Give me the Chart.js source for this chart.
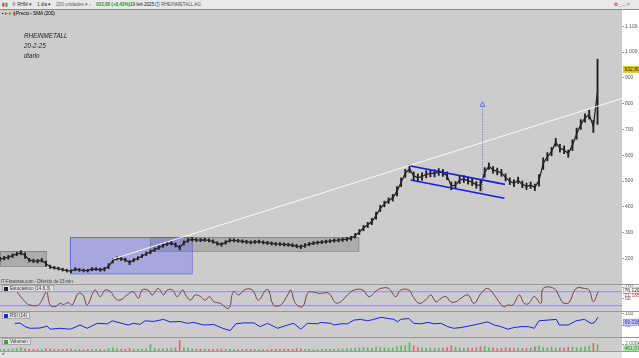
<!DOCTYPE html>
<html>
<head>
<meta charset="utf-8">
<script src="https://cdn.jsdelivr.net/npm/chart.js@4.4.1/dist/chart.umd.min.js"></script>
<style>
  body { margin: 0; width: 639px; height: 358px; overflow: hidden; background: #fff; position: relative;
         font-family: "Liberation Sans", Arial, sans-serif; }
  canvas { position: absolute; left: 0; }
  .row1 { position: absolute; left: 0; top: 0; width: 639px; height: 9px; background: #e9e9e9; border-bottom: 1px solid #8c8c8c; }
  .t { position: absolute; font-size: 4.8px; line-height: 7px; white-space: nowrap; color: #333; letter-spacing: -0.1px; }
  .note { position: absolute; left: 24px; font-style: italic; font-size: 6.3px; color: #222; }
  .hdr { position: absolute; left: 2px; font-size: 4.6px; line-height: 5px; padding: 0 2px 0 1px; background: #e4e4e4; border: 1px solid #aaa; color: #333; }
  .hdr i { display: inline-block; width: 4px; height: 4px; margin-right: 2px; vertical-align: -0.5px; }
  .sep { position: absolute; left: 0; width: 639px; height: 1px; background: #9a9a9a; }
</style>
</head>
<body>
<div class="row1">
  <span class="t" style="left:2px;top:1px;color:#c33">▮<b style="color:#3a3">▮</b></span>
  <span class="t" style="left:12px;top:1px">⚲ RHM ▾</span>
  <span class="t" style="left:37px;top:1px">1 día ▾</span>
  <span class="t" style="left:56px;top:1px;color:#666">200 unidades ▾</span>
  <span class="t" style="left:89px;top:1px;color:#666">▫</span>
  <span class="t" style="left:96px;top:1px;color:#2a9a2a;font-weight:bold">932,80 (+8,43%)</span>
  <span class="t" style="left:130px;top:1px;color:#222">19 feb 2025</span>
  <span class="t" style="left:155px;top:1px;color:#555"><b style="color:#36c">ⓘ</b> RHEINMETALL AG</span>
  <span class="t" style="left:614px;top:1px;color:#c33">✿<span style="color:#777"> _ □ ×</span></span>
</div>
<span class="t" style="left:2px;top:10px;z-index:2;color:#000">▪ <b style="color:#d33">▸</b> <b style="color:#3a3">▸</b> <span style="color:#c33">▮</span>Precio ▫ SMA (200)</span>

<canvas id="priceC" width="639" height="274" style="top:10px"></canvas>
<canvas id="stochC" width="639" height="27" style="top:284px"></canvas>
<canvas id="rsiC" width="639" height="26" style="top:311px"></canvas>
<canvas id="volC" width="639" height="21" style="top:337px"></canvas>

<div class="note" style="top:32px">RHEINMETALL</div>
<div class="note" style="top:42px">20-2-25</div>
<div class="note" style="top:52px">diario</div>
<span class="t" style="left:1px;top:278px;font-size:4.6px;color:#444">IT-Finanzas.com - Diferido de 15 min</span>
<div class="hdr" style="top:285px"><i style="background:#222"></i>Estocástico (14,6,3)</div>
<div class="hdr" style="top:312px"><i style="background:#2222dd"></i>RSI (14)</div>
<div class="hdr" style="top:338px"><i style="background:#3a3"></i>Volumen</div>
<div class="sep" style="top:284px"></div>
<div class="sep" style="top:311px"></div>
<div class="sep" style="top:337px"></div>
<div class="sep" style="top:351px"></div>

<script>
// ── Data ──────────────────────────────────────────────────────────────
// days since 2022-01-01; one price bar per week starting at startDay
const startDay = 141;
const xMin = 141, xMax = 1183;

const priceLow = [
  190,194,197,203,210,214,200,186,184,182,186,170,
  161,158,155,151,147,145,152,150,148,147,152,153,
  150,151,160,182,194,192,188,176,187,194,203,211,
  218,227,235,243,250,252,244,233,252,263,267,265,
  265,266,264,259,251,247,255,263,264,262,260,258,
  256,258,259,256,254,252,250,249,248,247,245,241,
  238,243,249,253,255,257,259,261,263,264,266,268,
  271,279,292,307,320,331,352,382,400,413,422,442,
  478,514,532,505,497,503,512,516,516,522,518,505,
  466,470,490,494,488,482,472,462,515,545,530,524,
  518,500,486,478,490,474,467,471,463,480,545,578,
  598,635,612,606,592,618,662,700,728,740,688,720
];
const priceHigh = [
  204,208,212,218,224,230,222,200,197,196,200,190,
  174,169,166,162,158,156,164,161,159,158,164,164,
  162,165,180,200,206,204,201,192,200,207,216,225,
  233,241,249,257,263,266,260,250,268,277,281,278,
  277,278,276,272,265,261,269,276,276,274,272,270,
  268,270,271,268,266,264,262,261,260,259,257,254,
  252,257,262,265,267,269,271,273,276,277,279,282,
  286,297,312,328,340,355,380,406,422,435,448,478,
  512,545,562,535,527,532,540,543,544,548,545,535,
  496,498,518,521,515,509,498,505,552,570,556,550,
  545,528,512,505,515,500,492,496,488,525,590,610,
  630,665,642,636,620,660,705,738,760,775,735,972
];
const volume = [
  520,480,450,600,700,900,650,500,480,420,450,700,
  600,500,450,480,520,600,450,420,400,450,500,480,
  420,380,700,900,600,550,500,800,500,480,520,600,
  1800,700,600,650,700,800,900,3000,900,800,600,500,
  550,480,450,500,520,600,480,450,420,400,450,500,
  480,460,440,420,400,450,480,500,520,480,460,700,
  600,500,480,450,420,450,480,500,520,560,600,650,
  700,800,900,1000,900,800,1100,1000,900,800,900,1200,
  1400,1500,2400,1400,1000,900,800,850,800,900,800,1000,
  1500,1100,900,800,850,800,900,1200,1300,900,800,750,
  800,900,800,850,800,750,800,900,1200,1400,1000,900,
  1100,800,900,800,1000,1100,900,1000,1200,1400,2200,1800
];

const stochDay = [169,183,191,205,213,219,225,233,242,247,255,262,272,280,287,300,309,317,326,334,342,354,364,373,379,389,396,406,415,421,430,438,447,452,460,468,477,485,492,499,510,524,532,541,552,564,574,586,591,599,611,623,628,636,648,656,661,675,678,692,703,712,723,734,749,759,771,779,792,804,812,826,833,843,854,863,871,880,888,896,905,913,925,935,947,958,969,984,992,1000,1011,1019,1027,1036,1047,1051,1069,1078,1084,1094,1106,1120,1128,1135,1143];
const stochVal = [80,37,23,23,52,80,23,16,30,25,33,23,73,66,23,87,59,87,80,52,44,66,80,52,87,87,66,94,66,87,87,59,87,66,44,66,59,44,59,37,30,9,80,66,90,87,44,87,87,23,23,66,87,30,16,73,80,73,73,73,33,37,66,87,87,59,83,94,94,59,87,87,59,30,44,66,37,52,59,37,37,52,66,30,73,94,66,16,23,23,66,30,30,59,30,94,94,59,33,33,94,94,87,37,80];

const rsiDay = [166,175,183,191,208,220,225,242,259,275,287,304,321,329,342,356,364,376,384,398,415,426,443,455,465,482,499,514,527,536,549,566,577,589,606,623,633,645,656,673,678,695,700,712,723,734,745,757,767,779,791,801,807,812,826,834,846,858,868,880,891,901,913,925,935,947,958,969,980,992,1002,1014,1026,1036,1044,1059,1073,1078,1093,1106,1120,1131,1136,1143];
const rsiVal = [60,61,46,39,40,48,35,39,35,53,39,60,58,71,62,53,60,56,71,68,77,66,68,60,64,53,55,39,29,58,62,62,46,60,39,53,60,35,60,58,64,60,53,58,58,74,77,71,77,86,81,77,66,77,81,60,58,64,58,60,46,39,42,48,53,60,66,53,46,35,42,46,46,39,71,74,77,53,53,71,77,60,62,86];

const priceTicks = [200, 300, 400, 500, 600, 700, 800, 900, 1000, 1100];
const stochTicks = [50, 100];
const rsiTicks = [50, 100];
const volTicks = [2000];
const monthNames = ['ene','feb','mar','abr','may','jun','jul','ago','sep','oct','nov','dic'];

const lastPrice = 932.80, lastStochK = 76.120, lastStochD = 71.185, lastRsi = 69.028, lastVol = 461.579;

// drawings (day, price)
const grayBoxes = [[141, 218, 171, 229], [393, 742, 229, 283]];
const blueBox = [258, 462, 142, 283];
const trendLine = [[328, 196], [1183, 820]];
const channelUpper = [[829, 558], [987, 487]];
const channelLower = [[829, 504], [986, 433]];
const targetArrow = [948, 446, 807];

// ── Helpers ───────────────────────────────────────────────────────────
const weekDay = i => startDay + 7 * i;
const fmtNum = v => v >= 1000 ? Math.floor(v / 1000) + '.' + String(v % 1000).padStart(3, '0') : String(v);
const FONT = 'Liberation Sans';

const monthTicks = [];
for (let y = 2022; y <= 2025; y++) {
  for (let m = 0; m < 12; m++) {
    const d = (Date.UTC(y, m, 1) - Date.UTC(2022, 0, 1)) / 864e5;
    if (d >= 170 && d <= 1170) monthTicks.push({ value: d, label: m === 0 ? String(y) : monthNames[m], year: m === 0 });
  }
}

const paneBg = {
  id: 'paneBg',
  beforeDraw(c) {
    const a = c.chartArea, ctx = c.ctx;
    ctx.save();
    ctx.fillStyle = '#cccccc';
    ctx.fillRect(a.left, a.top, a.right - a.left, a.bottom - a.top);
    ctx.restore();
  }
};

function yAxis(ticks, min, max, fmt) {
  return {
    position: 'right', min, max,
    afterFit: s => { s.width = 17; s.paddingTop = 0; s.paddingBottom = 0; },
    afterBuildTicks: s => { s.ticks = ticks.map(v => ({ value: v })); },
    grid: { drawOnChartArea: false, tickLength: 2, color: '#999' },
    border: { display: false },
    ticks: { font: { size: 5, family: FONT }, color: '#555', padding: 1, autoSkip: false, callback: fmt }
  };
}

function baseOpts(y, x) {
  return {
    responsive: false, animation: false, events: [],
    layout: { padding: 0 },
    plugins: { legend: { display: false }, tooltip: { enabled: false } },
    scales: {
      x: Object.assign({ type: 'linear', min: xMin, max: xMax, display: false, offset: false }, x || {}),
      y
    }
  };
}

function valueBox(ctx, y, text, bg, fg, border) {
  ctx.font = '5px ' + FONT;
  ctx.fillStyle = bg;
  ctx.fillRect(623, y - 3.5, 16, 7);
  if (border) { ctx.strokeStyle = border; ctx.lineWidth = 0.6; ctx.strokeRect(623.5, y - 3, 15, 6.5); }
  ctx.fillStyle = fg;
  ctx.textBaseline = 'middle';
  ctx.fillText(text, 624.5, y + 0.3);
}

// ── Price chart ───────────────────────────────────────────────────────
const priceOverlay = {
  id: 'priceOverlay',
  beforeDatasetsDraw(c) {
    const { ctx, chartArea: a, scales: { x, y } } = c;
    ctx.save();
    ctx.beginPath(); ctx.rect(a.left, a.top, a.right - a.left, a.bottom - a.top); ctx.clip();
    const box = (b, fill, stroke) => {
      const x0 = x.getPixelForValue(b[0]), x1 = x.getPixelForValue(b[1]);
      const y0 = y.getPixelForValue(b[3]), y1 = y.getPixelForValue(b[2]);
      ctx.fillStyle = fill; ctx.fillRect(x0, y0, x1 - x0, y1 - y0);
      ctx.strokeStyle = stroke; ctx.lineWidth = 1; ctx.strokeRect(Math.round(x0) + 0.5, Math.round(y0) + 0.5, x1 - x0, y1 - y0);
    };
    grayBoxes.forEach(b => box(b, 'rgba(100,100,100,0.3)', 'rgba(110,110,110,0.6)'));
    box(blueBox, 'rgba(90,90,255,0.33)', 'rgba(80,80,220,0.7)');
    ctx.restore();
  },
  afterDatasetsDraw(c) {
    const { ctx, chartArea: a, scales: { x, y } } = c;
    const P = p => [x.getPixelForValue(p[0]), y.getPixelForValue(p[1])];
    ctx.save();
    ctx.beginPath(); ctx.rect(a.left, a.top, a.right - a.left, a.bottom - a.top); ctx.clip();
    const seg = (pts, color, w) => {
      const p0 = P(pts[0]), p1 = P(pts[1]);
      ctx.strokeStyle = color; ctx.lineWidth = w;
      ctx.beginPath(); ctx.moveTo(p0[0], p0[1]); ctx.lineTo(p1[0], p1[1]); ctx.stroke();
    };
    seg(trendLine, '#ffffff', 0.9);
    seg(channelUpper, '#1a1ae6', 1.6);
    seg(channelLower, '#1a1ae6', 1.6);
    // target arrow
    const ax = Math.round(x.getPixelForValue(targetArrow[0])) + 0.5;
    const ay0 = y.getPixelForValue(targetArrow[1]), ay1 = y.getPixelForValue(targetArrow[2]);
    ctx.strokeStyle = '#6a6aff'; ctx.lineWidth = 1; ctx.setLineDash([1, 1.5]);
    ctx.beginPath(); ctx.moveTo(ax, ay0); ctx.lineTo(ax, ay1 + 4); ctx.stroke();
    ctx.setLineDash([]);
    ctx.beginPath(); ctx.moveTo(ax, ay1); ctx.lineTo(ax - 2.5, ay1 + 4.5); ctx.lineTo(ax + 2.5, ay1 + 4.5); ctx.closePath(); ctx.stroke();
    ctx.restore();
    valueBox(ctx, y.getPixelForValue(lastPrice), '932,80', '#e6c81e', '#222');
  }
};

new Chart(document.getElementById('priceC'), {
  type: 'bar',
  data: {
    datasets: [{
      type: 'line',
      data: priceLow.map((lo, i) => ({ x: weekDay(i), y: (lo + priceHigh[i]) / 2 })),
      borderColor: '#262626', borderWidth: 1.3, pointRadius: 0, tension: 0
    }, {
      data: priceLow.map((lo, i) => ({ x: weekDay(i), y: [lo, priceHigh[i]] })),
      backgroundColor: '#1d1d1d', barThickness: 1.2, borderWidth: 0, grouped: false
    }]
  },
  options: baseOpts(yAxis(priceTicks, 100.8, 1162.8, v => fmtNum(v))),
  plugins: [paneBg, priceOverlay]
});

// ── Stochastic ────────────────────────────────────────────────────────
const stochOverlay = {
  id: 'stochOverlay',
  beforeDatasetsDraw(c) {
    const { ctx, chartArea: a, scales: { y } } = c;
    ctx.save();
    ctx.strokeStyle = '#9c9ce4'; ctx.lineWidth = 1.3;
    [80, 20].forEach(v => {
      const py = y.getPixelForValue(v);
      ctx.beginPath(); ctx.moveTo(a.left, py); ctx.lineTo(a.right, py); ctx.stroke();
    });
    ctx.restore();
  },
  afterDraw(c) {
    const { ctx, scales: { y } } = c;
    ctx.save();
    valueBox(ctx, y.getPixelForValue(lastStochK) - 2.5, '76,120', '#f4f4f4', '#333', '#999');
    ctx.fillStyle = '#d04040'; ctx.font = '5px ' + FONT;
    ctx.fillText('71,185', 624.5, y.getPixelForValue(lastStochD) + 1.5);
    ctx.restore();
  }
};

new Chart(document.getElementById('stochC'), {
  type: 'line',
  data: {
    datasets: [{
      data: stochDay.map((d, i) => ({ x: d, y: stochVal[i] })),
      borderColor: '#6e4646', borderWidth: 1, pointRadius: 0, tension: 0.4
    }]
  },
  options: baseOpts(yAxis(stochTicks, -2.7, 113, v => String(v))),
  plugins: [paneBg, stochOverlay]
});

// ── RSI ───────────────────────────────────────────────────────────────
const rsiOverlay = {
  id: 'rsiOverlay',
  afterDraw(c) {
    const { ctx, scales: { y } } = c;
    ctx.save();
    valueBox(ctx, y.getPixelForValue(lastRsi) + 1, '69,028', '#c9c9f2', '#2a2ad0', '#8a8ae0');
    ctx.restore();
  }
};

new Chart(document.getElementById('rsiC'), {
  type: 'line',
  data: {
    datasets: [{
      data: rsiDay.map((d, i) => ({ x: d, y: rsiVal[i] })),
      borderColor: '#2020dd', borderWidth: 1, pointRadius: 0, tension: 0
    }]
  },
  options: baseOpts(yAxis(rsiTicks, 1.7, 112.8, v => String(v))),
  plugins: [paneBg, rsiOverlay]
});

// ── Volume + date axis ────────────────────────────────────────────────
const volOverlay = {
  id: 'volOverlay',
  beforeDraw(c) {
    const ctx = c.ctx;
    ctx.save();
    ctx.fillStyle = '#e2e2e2';
    ctx.fillRect(0, c.chartArea.bottom, 622, c.height - c.chartArea.bottom);
    ctx.fillStyle = '#333'; ctx.font = '5px ' + FONT; ctx.textBaseline = 'top';
    ctx.fillText('«', 2, c.chartArea.bottom + 0.5);
    ctx.restore();
  },
  afterDraw(c) {
    const { ctx, scales: { y } } = c;
    ctx.save();
    valueBox(ctx, y.getPixelForValue(lastVol) - 1, '461,579', '#b5e3b5', '#1c8a1c');
    ctx.restore();
  }
};

const volColors = volume.map((v, i) =>
  i > 0 && priceLow[i] + priceHigh[i] < priceLow[i - 1] + priceHigh[i - 1] ? '#d86a6a' : '#5cb85c');

const volX = {
  display: true, position: 'bottom',
  afterFit: s => { s.height = 7; s.paddingLeft = 0; s.paddingRight = 0; },
  afterBuildTicks: s => { s.ticks = monthTicks.map(t => ({ value: t.value })); },
  grid: { display: false }, border: { display: false },
  ticks: {
    padding: 0, maxRotation: 0, autoSkip: false, color: '#333',
    font: ctx => ({ size: 5.5, family: FONT, weight: monthTicks[ctx.index] && monthTicks[ctx.index].year ? 'bold' : 'normal' }),
    callback: (v, i) => monthTicks[i] ? monthTicks[i].label : ''
  }
};

new Chart(document.getElementById('volC'), {
  type: 'bar',
  data: {
    datasets: [{
      data: volume.map((v, i) => ({ x: weekDay(i), y: v })),
      backgroundColor: volColors, barThickness: 1, borderWidth: 0
    }]
  },
  options: baseOpts(yAxis(volTicks, 0, 4000, v => '2.000k'), volX),
  plugins: [paneBg, volOverlay]
});
</script>
</body>
</html>
